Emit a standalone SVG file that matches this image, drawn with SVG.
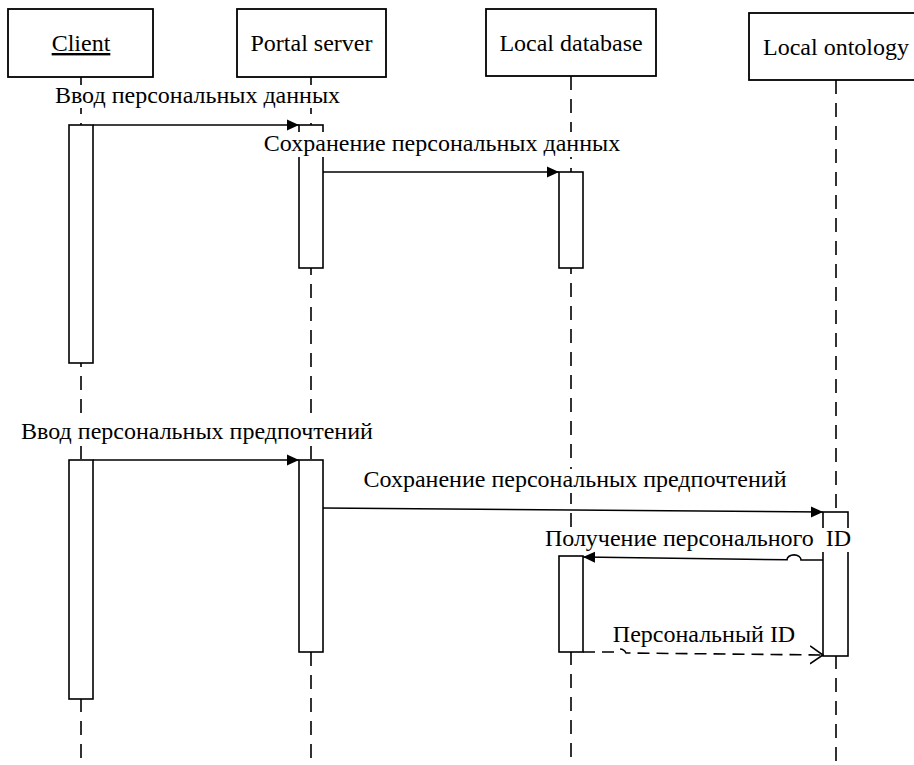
<svg xmlns="http://www.w3.org/2000/svg" width="914" height="765" viewBox="0 0 914 765">
  <style>
    .box { fill: #fff; stroke: #000; stroke-width: 1.8; }
    .life { stroke: #000; stroke-width: 1.6; stroke-dasharray: 14 9; fill: none; }
    .act { fill: #fff; stroke: #000; stroke-width: 1.6; }
    .t { font-family: "Liberation Serif", "Times New Roman", serif; font-size: 24px; fill: #000; text-anchor: middle; }
    .bg { fill: #fff; stroke: none; }
    .msg { stroke: #000; stroke-width: 1.6; fill: none; }
    .ret { stroke: #000; stroke-width: 1.6; fill: none; stroke-dasharray: 12 7; }
  </style>
  <defs>
    <marker id="solidHead" viewBox="0 0 12 12" refX="12" refY="6" markerWidth="12" markerHeight="12" markerUnits="userSpaceOnUse" orient="auto">
      <path d="M0,0.5 L12,6 L0,11.5 Z" fill="#000"/>
    </marker>
    <marker id="openHead" viewBox="0 0 14 20" refX="13" refY="10" markerWidth="14" markerHeight="20" markerUnits="userSpaceOnUse" orient="auto">
      <path d="M0,1 L13,10 L0,19" fill="none" stroke="#000" stroke-width="1.6"/>
    </marker>
  </defs>
  <rect width="914" height="765" fill="#fff"/>

  <!-- Participants with lifelines and activation bars -->
  <g id="client">
    <rect class="box" x="8" y="9" width="145" height="68"/>
    <text class="t" x="81" y="51" text-decoration="underline">Client</text>
    <line class="life" x1="81" y1="77" x2="81" y2="765"/>
    <rect class="act" x="69" y="125" width="24" height="238"/>
    <rect class="act" x="69" y="460" width="24" height="239"/>
  </g>
  <g id="portal-server">
    <rect class="box" x="237" y="9" width="149" height="68"/>
    <text class="t" x="311.5" y="51">Portal server</text>
    <line class="life" x1="311" y1="77" x2="311" y2="765"/>
    <rect class="act" x="299" y="125" width="24" height="143"/>
    <rect class="act" x="299" y="460" width="24" height="192"/>
  </g>
  <g id="local-database">
    <rect class="box" x="486" y="9" width="170" height="67"/>
    <text class="t" x="571" y="51">Local database</text>
    <line class="life" x1="571" y1="76" x2="571" y2="765"/>
    <rect class="act" x="559" y="172" width="24" height="96"/>
    <rect class="act" x="559" y="556" width="24" height="96"/>
  </g>
  <g id="local-ontology">
    <rect class="box" x="749" y="13" width="174" height="67"/>
    <text class="t" x="836" y="55">Local ontology</text>
    <line class="life" x1="836" y1="80" x2="836" y2="765"/>
    <rect class="act" x="823" y="512" width="25" height="144"/>
  </g>

  <!-- Message labels on white backing -->
  <g id="labels">
    <rect class="bg" x="54" y="85" width="288" height="23"/>
    <text class="t" x="197.5" y="103">Ввод персональных данных</text>
    <rect class="bg" x="263" y="132" width="359" height="25"/>
    <text class="t" x="442" y="151">Сохранение персональных данных</text>
    <rect class="bg" x="20" y="421" width="354" height="25"/>
    <text class="t" x="197" y="439">Ввод персональных предпочтений</text>
    <rect class="bg" x="363" y="469" width="425" height="24"/>
    <text class="t" x="575" y="487">Сохранение персональных предпочтений</text>
    <rect class="bg" x="544" y="528" width="309" height="24"/>
    <text class="t" x="698" y="546" xml:space="preserve">Получение персонального  ID</text>
    <rect class="bg" x="612" y="624" width="185" height="23"/>
    <text class="t" x="704" y="642">Персональный ID</text>
  </g>

  <!-- Messages -->
  <g id="connectors">
    <line class="msg" x1="93" y1="125" x2="299" y2="125" marker-end="url(#solidHead)"/>
    <line class="msg" x1="323" y1="172" x2="559" y2="172" marker-end="url(#solidHead)"/>
    <line class="msg" x1="93" y1="460" x2="299" y2="460" marker-end="url(#solidHead)"/>
    <line class="msg" x1="323" y1="508" x2="823" y2="512" marker-end="url(#solidHead)"/>
    <path class="msg" d="M823,560 L801,559.9 A7,5 0 0 0 787,559.8 L583,557" marker-end="url(#solidHead)"/>
    <path class="ret" d="M583,652 L614,652 Q616,649 620,649 Q624,649 626,653 L823,655" marker-end="url(#openHead)"/>
  </g>
</svg>
